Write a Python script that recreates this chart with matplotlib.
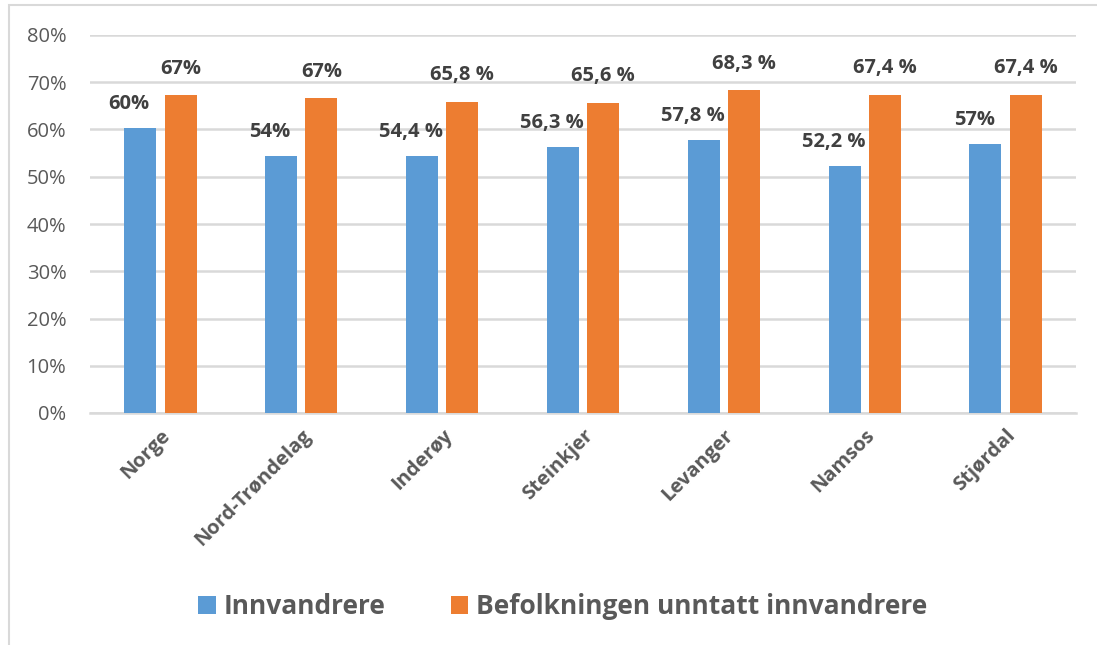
import numpy as np
import matplotlib.pyplot as plt
from matplotlib.patches import Rectangle

# === DATA ===
steder = ['Norge', 'Nord-Trøndelag', 'Inderøy', 'Steinkjer', 'Levanger', 'Namsos', 'Stjørdal']
innvandrere = [60.3, 54.4, 54.4, 56.3, 57.8, 52.2, 57.0]
befolkning = [67.2, 66.6, 65.8, 65.6, 68.3, 67.4, 67.4]
etiketter_innv = ['60%', '54%', '54,4 %', '56,3 %', '57,8 %', '52,2 %', '57%']
etiketter_bef = ['67%', '67%', '65,8 %', '65,6 %', '68,3 %', '67,4 %', '67,4 %']
serier = ['Innvandrere', 'Befolkningen unntatt innvandrere']

BLA = '#5b9bd5'
ORANSJE = '#ed7d31'
plt.rcParams['font.family'] = ['Open Sans', 'DejaVu Sans']

fig = plt.figure(figsize=(10.97, 6.45), dpi=100)
W, H = 1097, 645
ax = fig.add_axes([90 / W, 1 - 413 / H, (1076 - 90) / W, (413 - 35) / H])

x = np.arange(len(steder))
bredde = 0.227
b1 = ax.bar(x - 0.143, innvandrere, bredde, color=BLA, label=serier[0], zorder=3)
b2 = ax.bar(x + 0.143, befolkning, bredde, color=ORANSJE, label=serier[1], zorder=3)

for rect, txt in zip(b1, etiketter_innv):
    ax.annotate(txt, (rect.get_x() + rect.get_width() / 2, rect.get_height()),
                xytext=(-8, 10), textcoords='offset points', ha='center', va='bottom',
                fontsize=14.5, fontweight='bold', color='#404040')
for rect, txt in zip(b2, etiketter_bef):
    ax.annotate(txt, (rect.get_x() + rect.get_width() / 2, rect.get_height()),
                xytext=(0, 12), textcoords='offset points', ha='center', va='bottom',
                fontsize=14.5, fontweight='bold', color='#404040')

ax.set_xlim(-0.5, len(steder) - 0.5)
ax.set_ylim(0, 80)
ax.set_yticks(np.arange(0, 81, 10))
ax.set_yticklabels([f'{v}%' for v in range(0, 81, 10)], fontsize=14.5, color='#595959')
ax.yaxis.grid(True, color='#d9d9d9', linewidth=1.8, zorder=0)
ax.set_axisbelow(True)
for s in ['top', 'right', 'left']:
    ax.spines[s].set_visible(False)
ax.spines['bottom'].set_color('#d9d9d9')
ax.spines['bottom'].set_linewidth(1.8)
ax.tick_params(axis='both', length=0)
ax.tick_params(axis='y', pad=17)

ax.set_xticks(x)
ax.set_xticklabels(steder, rotation=45, ha='right', rotation_mode='anchor',
                   fontsize=14.5, fontweight='bold', color='#595959')
ax.tick_params(axis='x', pad=9)

leg = fig.legend(handles=[b1, b2], loc='center', bbox_to_anchor=(563 / W, 1 - 607 / H),
                 ncol=2, frameon=False, fontsize=19, handlelength=0.65, handleheight=0.65,
                 columnspacing=2.5, handletextpad=0.3)
for t in leg.get_texts():
    t.set_color('#595959')
    t.set_fontweight('bold')

# ramme rundt diagrammet
fig.patches.append(Rectangle((9 / W, -0.1), 1.2, 1 - 5 / H + 0.1, transform=fig.transFigure,
                             fill=False, edgecolor='#d9d9d9', linewidth=1.5))

fig.savefig('out.png', dpi=100)
